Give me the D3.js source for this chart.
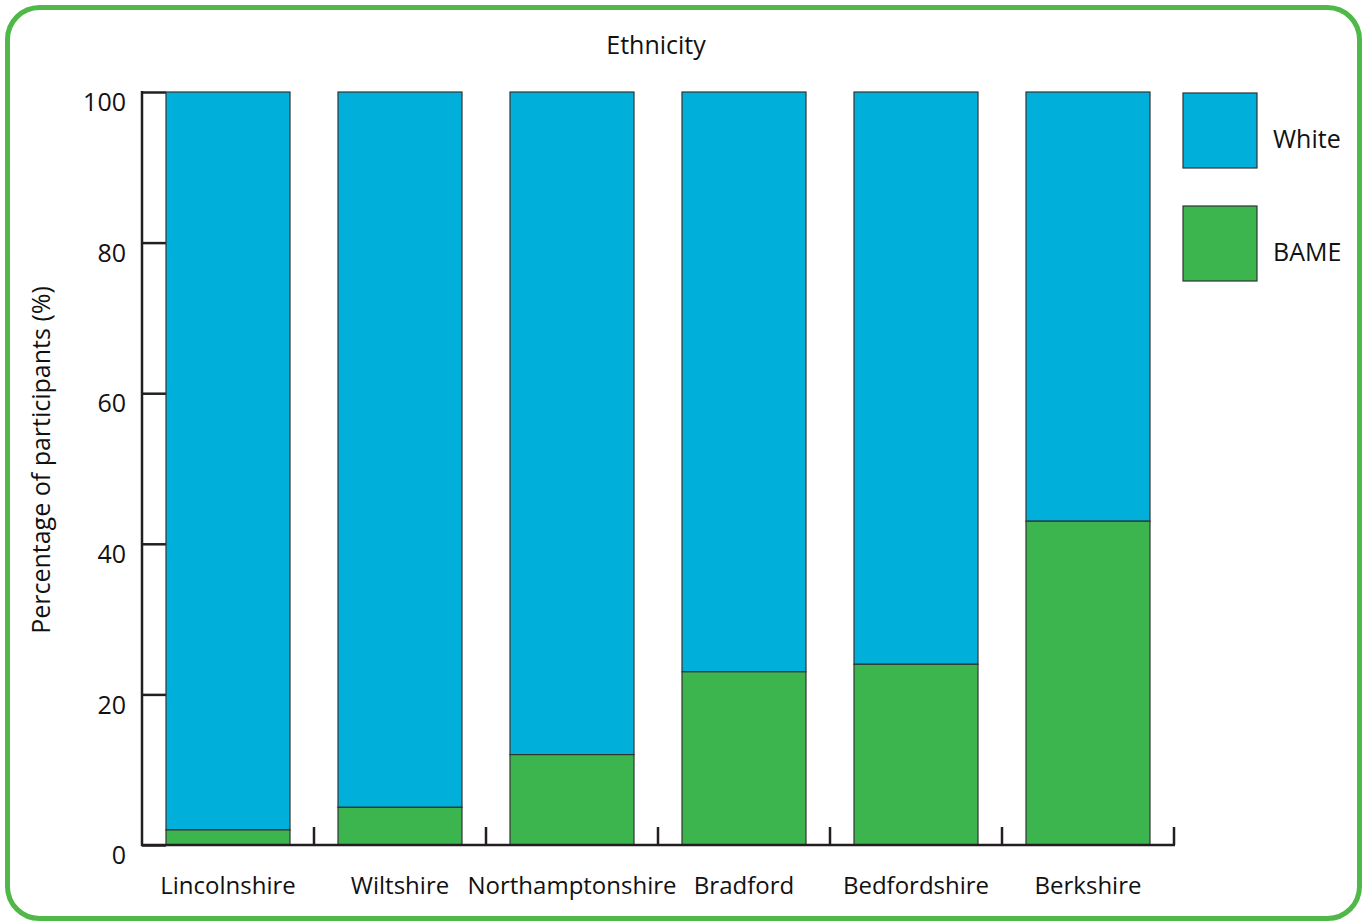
<!DOCTYPE html>
<html><head><meta charset="utf-8">
<script src="https://cdn.jsdelivr.net/npm/d3@7"></script>
<style>body{margin:0;background:#fff}svg{display:block}text{font-family:"Open Sans",sans-serif;fill:#111}</style>
</head><body>
<svg id="c" width="1363" height="922"></svg>
<script>
const categories = ["Lincolnshire","Wiltshire","Northamptonshire","Bradford","Bedfordshire","Berkshire"];
const bame = [2, 5, 12, 23, 24, 43];
const white = bame.map(v => 100 - v);
const seriesNames = ["White","BAME"];
const yTicks = [0,20,40,60,80,100];

(function(){
const FS = 25;
const svg = d3.select("#c");
svg.append("rect").attr("x",7.5).attr("y",7.5).attr("width",1352).attr("height",911)
  .attr("rx",32).attr("fill","#fff").attr("stroke","#50b848").attr("stroke-width",5);

const pL=142, pR=1174, pT=92, pB=845;
const x = d3.scaleBand().domain(categories).range([pL,pR]).paddingInner(0.279).paddingOuter(0.1395);
const y = d3.scaleLinear().domain([0,100]).range([pB,pT]);
const colors = {White:"#00b0da", BAME:"#3cb54e"};

const ya = svg.append("g").attr("transform",`translate(${pL},0)`)
  .call(d3.axisLeft(y).tickValues(yTicks).tickSize(-24).tickPadding(16));
ya.select(".domain").remove();
ya.selectAll(".tick line").attr("stroke","#231f20").attr("stroke-width",2.5);
ya.selectAll(".tick text").attr("font-size",FS).attr("dy","0.75em").style("font-family","'Open Sans',sans-serif").attr("fill","#111");

const data = categories.map((c,i)=>({c, bame:bame[i], white:white[i]}));
const g = svg.append("g");
data.forEach(d=>{
  g.append("rect").attr("x",x(d.c)).attr("width",x.bandwidth())
    .attr("y",y(d.bame+d.white)).attr("height",y(d.bame)-y(d.bame+d.white))
    .attr("fill",colors.White).attr("stroke","#333").attr("stroke-width",1.2);
  g.append("rect").attr("x",x(d.c)).attr("width",x.bandwidth())
    .attr("y",y(d.bame)).attr("height",y(0)-y(d.bame))
    .attr("fill",colors.BAME).attr("stroke","#333").attr("stroke-width",1.2);
});

svg.append("line").attr("x1",pL).attr("x2",pL).attr("y1",y(100)-1).attr("y2",y(0)+1)
  .attr("stroke","#231f20").attr("stroke-width",2.5);

const xa = svg.append("g").attr("transform",`translate(0,${pB})`)
  .call(d3.axisBottom(x).tickSize(0).tickPadding(32));
xa.select(".domain").remove();
xa.selectAll(".tick text").attr("font-size",24).style("font-family","'Open Sans',sans-serif").attr("fill","#111");
svg.append("line").attr("x1",pL-1).attr("x2",pR+1).attr("y1",pB).attr("y2",pB)
  .attr("stroke","#231f20").attr("stroke-width",2.5);
categories.forEach(c=>{
  const bx = x(c) + x.bandwidth() + x.step()*x.paddingInner()/2 ;
  svg.append("line").attr("x1",bx).attr("x2",bx).attr("y1",pB).attr("y2",pB-18)
    .attr("stroke","#231f20").attr("stroke-width",2.5);
});

svg.append("text").attr("x",656).attr("y",54).attr("text-anchor","middle").attr("font-size",FS).text("Ethnicity");
svg.append("text").attr("transform","translate(50,460) rotate(-90)").attr("text-anchor","middle").attr("font-size",FS).text("Percentage of participants (%)");

seriesNames.forEach((s,i)=>{
  const ly = 93 + i*113;
  svg.append("rect").attr("x",1183).attr("y",ly).attr("width",74).attr("height",75)
    .attr("fill",colors[s]).attr("stroke","#333").attr("stroke-width",1.2);
  svg.append("text").attr("x",1273).attr("y",ly+55).attr("font-size",FS).text(s);
});
})();
</script>
</body></html>
